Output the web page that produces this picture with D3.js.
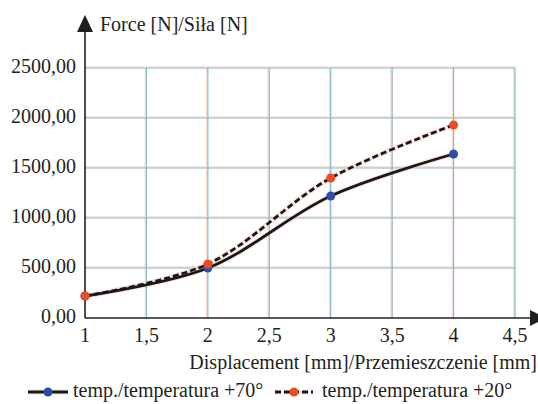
<!DOCTYPE html>
<html>
<head>
<meta charset="utf-8">
<script src="https://cdn.jsdelivr.net/npm/d3@7"></script>
<style>
  body { margin: 0; background: #fff; }
  text { font-family: "Liberation Serif", "Times New Roman", "DejaVu Serif", serif; font-size: 20px; fill: #231f20; }
</style>
</head>
<body>
<div id="chart"></div>
<script>
// displacement [mm]
const displacement = [1, 2, 3, 4];
// force [N] at +70° and +20°
const force70 = [220, 500, 1220, 1640];
const force20 = [220, 540, 1400, 1930];
const xTicks = [1, 1.5, 2, 2.5, 3, 3.5, 4, 4.5];
const yTicks = [0, 500, 1000, 1500, 2000, 2500];
const seriesNames = ['temp./temperatura +70°', 'temp./temperatura +20°'];

const W = 538, H = 404;
const fmt = v => String(v).replace('.', ',');
const fmtY = v => v.toFixed(2).replace('.', ',');

const svg = d3.select('#chart').append('svg')
  .attr('width', W).attr('height', H);

const x = d3.scaleLinear().domain([1, 4.5]).range([85, 515]);
const y = d3.scaleLinear().domain([0, 2500]).range([318, 68]);

// grid, blue line with a faint orange shadow
const grid = svg.append('g');
const drawGrid = (off, color) => {
  grid.append('g').selectAll('line.v')
    .data(xTicks.slice(1)).enter().append('line')
    .attr('x1', d => x(d) + off).attr('x2', d => x(d) + off)
    .attr('y1', y(2500)).attr('y2', y(0))
    .attr('stroke', color).attr('stroke-width', 1.2);
  grid.append('g').selectAll('line.h')
    .data(yTicks.slice(1)).enter().append('line')
    .attr('x1', x(1)).attr('x2', x(4.5))
    .attr('y1', d => y(d) + off).attr('y2', d => y(d) + off)
    .attr('stroke', color).attr('stroke-width', 1.2);
};
drawGrid(-1.2, '#f8dccf');
drawGrid(0, '#86b7c8');

// axes with arrows
const axes = svg.append('g');
axes.append('line')
  .attr('x1', x(1)).attr('x2', 530)
  .attr('y1', y(0)).attr('y2', y(0))
  .attr('stroke', '#231f20').attr('stroke-width', 1.6);
axes.append('path')
  .attr('d', `M546,${y(0)} L530,${y(0) - 8} L530,${y(0) + 8} Z`)
  .attr('fill', '#231f20');
axes.append('line')
  .attr('x1', x(1)).attr('x2', x(1))
  .attr('y1', y(0)).attr('y2', 30)
  .attr('stroke', '#231f20').attr('stroke-width', 1.6);
axes.append('path')
  .attr('d', `M${x(1)},15 L${x(1) - 8},32 L${x(1) + 8},32 Z`)
  .attr('fill', '#231f20');

// tick labels
svg.append('g').selectAll('text')
  .data(yTicks).enter().append('text')
  .attr('x', 76).attr('y', d => y(d) + 5)
  .attr('text-anchor', 'end')
  .text(fmtY);
svg.append('g').selectAll('text')
  .data(xTicks).enter().append('text')
  .attr('x', d => x(d)).attr('y', 342)
  .attr('text-anchor', 'middle')
  .text(fmt);

svg.append('text').attr('x', 100).attr('y', 31).text('Force [N]/Siła [N]');
svg.append('text').attr('x', 537).attr('y', 369).attr('text-anchor', 'end')
  .text('Displacement [mm]/Przemieszczenie [mm]');

// series
const line = d3.line()
  .curve(d3.curveCatmullRom.alpha(0.5))
  .x(d => x(d[0])).y(d => y(d[1]));

const series = [
  { name: seriesNames[0], values: displacement.map((d, i) => [d, force70[i]]), dash: null, marker: '#2b4ea8' },
  { name: seriesNames[1], values: displacement.map((d, i) => [d, force20[i]]), dash: '6,3', marker: '#ee4a26' }
];

const lines = svg.append('g');
series.forEach(s => {
  lines.append('path')
    .attr('d', line(s.values))
    .attr('fill', 'none')
    .attr('stroke', '#f8cdbd').attr('stroke-width', 5).attr('stroke-opacity', 0.45);
});
series.forEach(s => {
  lines.append('path')
    .attr('d', line(s.values))
    .attr('fill', 'none')
    .attr('stroke', '#1a1718').attr('stroke-width', 2.8)
    .attr('stroke-dasharray', s.dash);
});
series.forEach(s => {
  lines.append('g').selectAll('circle')
    .data(s.values).enter().append('circle')
    .attr('cx', d => x(d[0])).attr('cy', d => y(d[1]))
    .attr('r', 4.5).attr('fill', s.marker);
});

// legend
const legendItems = [
  { s: series[0], x0: 28, x1: 68, tx: 73 },
  { s: series[1], x0: 275, x1: 313, tx: 322 }
];
const legend = svg.append('g');
legendItems.forEach(l => {
  legend.append('line')
    .attr('x1', l.x0).attr('x2', l.x1).attr('y1', 392).attr('y2', 392)
    .attr('stroke', '#f8cdbd').attr('stroke-width', 5).attr('stroke-opacity', 0.45);
  legend.append('line')
    .attr('x1', l.x0).attr('x2', l.x1).attr('y1', 392).attr('y2', 392)
    .attr('stroke', '#1a1718').attr('stroke-width', 2.8)
    .attr('stroke-dasharray', l.s.dash);
  legend.append('circle')
    .attr('cx', (l.x0 + l.x1) / 2).attr('cy', 392).attr('r', 4.5)
    .attr('fill', l.s.marker);
  legend.append('text').attr('x', l.tx).attr('y', 397).text(l.s.name);
});
</script>
</body>
</html>
